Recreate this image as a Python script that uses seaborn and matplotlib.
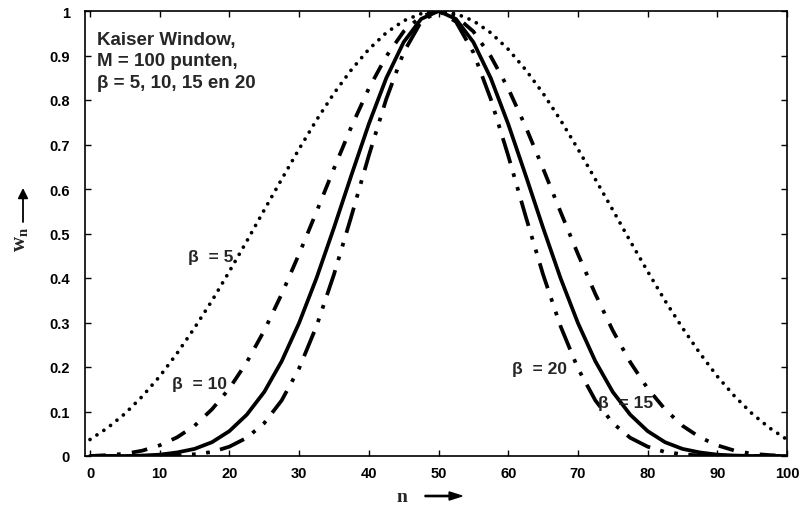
import numpy as np
import pandas as pd
import matplotlib
matplotlib.use("Agg")
import matplotlib.pyplot as plt
import seaborn as sns

# Sample index n (M = 100 points, step 2.5)
n = np.arange(0, 100.01, 2.5)

# Kaiser window values w_n for each beta
w_beta5 = [0.037, 0.063, 0.095, 0.134, 0.179, 0.231, 0.288, 0.349, 0.415, 0.483, 0.553,
           0.622, 0.690, 0.755, 0.815, 0.868, 0.914, 0.951, 0.978, 0.994, 1.000,
           0.994, 0.978, 0.951, 0.914, 0.868, 0.815, 0.755, 0.690, 0.622, 0.553,
           0.483, 0.415, 0.349, 0.288, 0.231, 0.179, 0.134, 0.095, 0.063, 0.037]
w_beta10 = [0.000, 0.002, 0.005, 0.012, 0.024, 0.042, 0.068, 0.105, 0.152, 0.211, 0.282,
            0.364, 0.454, 0.549, 0.646, 0.740, 0.826, 0.898, 0.954, 0.988, 1.000,
            0.988, 0.954, 0.898, 0.826, 0.740, 0.646, 0.549, 0.454, 0.364, 0.282,
            0.211, 0.152, 0.105, 0.068, 0.042, 0.024, 0.012, 0.005, 0.002, 0.000]
w_beta15 = [0.000, 0.000, 0.000, 0.001, 0.003, 0.008, 0.016, 0.031, 0.056, 0.093, 0.144,
            0.213, 0.299, 0.400, 0.513, 0.631, 0.746, 0.849, 0.930, 0.982, 1.000,
            0.982, 0.930, 0.849, 0.746, 0.631, 0.513, 0.400, 0.299, 0.213, 0.144,
            0.093, 0.056, 0.031, 0.016, 0.008, 0.003, 0.001, 0.000, 0.000, 0.000]
w_beta20 = [0.000, 0.000, 0.000, 0.000, 0.000, 0.001, 0.004, 0.009, 0.021, 0.041, 0.074,
            0.125, 0.197, 0.292, 0.408, 0.539, 0.675, 0.802, 0.907, 0.976, 1.000,
            0.976, 0.907, 0.802, 0.675, 0.539, 0.408, 0.292, 0.197, 0.125, 0.074,
            0.041, 0.021, 0.009, 0.004, 0.001, 0.000, 0.000, 0.000, 0.000, 0.000]

x_ticks = [0, 10, 20, 30, 40, 50, 60, 70, 80, 90, 100]
x_ticklabels = ["0", "10", "20", "30", "40", "50", "60", "70", "80", "90", "100"]
y_ticks = [0, 0.1, 0.2, 0.3, 0.4, 0.5, 0.6, 0.7, 0.8, 0.9, 1.0]
y_ticklabels = ["0", "0.1", "0.2", "0.3", "0.4", "0.5", "0.6", "0.7", "0.8", "0.9", "1"]

sns.set_style("ticks")
plt.rcParams["font.family"] = ["Liberation Sans", "DejaVu Sans"]
plt.rcParams["font.weight"] = "bold"
plt.rcParams["mathtext.fontset"] = "custom"
plt.rcParams["mathtext.rm"] = "Liberation Serif"

fig = plt.figure(figsize=(8.06, 5.06), dpi=100)
ax = fig.add_axes([85 / 806, 49 / 506, 702 / 806, 445 / 506])

df = pd.DataFrame({"n": n, "b5": w_beta5, "b10": w_beta10,
                   "b15": w_beta15, "b20": w_beta20})

sns.lineplot(data=df, x="n", y="b5", ax=ax, color="black", lw=2.7,
             linestyle=(0, (0.01, 2.2)), dash_capstyle="round", estimator=None)
sns.lineplot(data=df, x="n", y="b10", ax=ax, color="black", lw=2.7,
             linestyle=(0, (4.2, 3.0, 1.0, 3.0)), dash_capstyle="butt", estimator=None)
sns.lineplot(data=df, x="n", y="b15", ax=ax, color="black", lw=2.7,
             linestyle="-", estimator=None)
sns.lineplot(data=df, x="n", y="b20", ax=ax, color="black", lw=2.7,
             linestyle=(0, (7.0, 2.8, 1.0, 2.8, 1.0, 2.8)), dash_capstyle="butt",
             estimator=None)

ax.set_xlim(-0.72, 100)
ax.set_ylim(0, 1)
ax.set_xticks(x_ticks)
ax.set_xticklabels(x_ticklabels, fontsize=10.5, fontweight="bold")
ax.set_yticks(y_ticks)
ax.set_yticklabels(y_ticklabels, fontsize=10.5, fontweight="bold")
ax.tick_params(axis="both", direction="in", length=4, width=1,
               top=True, right=True, colors="black")
ax.tick_params(axis="x", pad=7)
ax.tick_params(axis="y", pad=11)
for sp in ax.spines.values():
    sp.set_visible(True)
    sp.set_linewidth(1.2)
    sp.set_color("black")
ax.set_xlabel("")
ax.set_ylabel("")

# Title block inside the plot
title_kw = dict(fontsize=13.5, fontweight="heavy", va="center", ha="left")
ax.text(1.0, 0.937, "Kaiser Window,", **title_kw)
ax.text(1.0, 0.889, "M = 100 punten,", **title_kw)
ax.text(1.0, 0.840, "\u03b2 = 5, 10, 15 en 20", **title_kw)

# Curve labels
label_kw = dict(fontsize=12.5, fontweight="heavy", va="center", ha="left")
ax.text(14.1, 0.449, "\u03b2  = 5", **label_kw)
ax.text(11.8, 0.162, "\u03b2  = 10", **label_kw)
ax.text(60.5, 0.196, "\u03b2  = 20", **label_kw)
ax.text(72.9, 0.121, "\u03b2  = 15", **label_kw)

# Axis labels with arrows
fig.text(402 / 806, 1 - 498 / 506, "n", fontsize=14, family="Liberation Serif",
         fontweight="bold", ha="center", va="center")
fig.patches.append(matplotlib.patches.FancyArrow(
    425 / 806, 1 - 497 / 506, 37 / 806, 0, width=0.0025, head_width=0.016,
    head_length=0.016, length_includes_head=True, color="black",
    transform=fig.transFigure, figure=fig))
fig.text(20 / 806, 1 - 239 / 506, r"$\mathrm{w_n}$", fontsize=15, rotation=90,
         ha="center", va="center")
ax.annotate("", xy=(23 / 806, 1 - 189 / 506), xytext=(23 / 806, 1 - 223 / 506),
            xycoords="figure fraction", textcoords="figure fraction",
            arrowprops=dict(arrowstyle="-|>", color="black", lw=1.3,
                            mutation_scale=15, shrinkA=0, shrinkB=0),
            annotation_clip=False)

fig.savefig("out.png", dpi=100)
